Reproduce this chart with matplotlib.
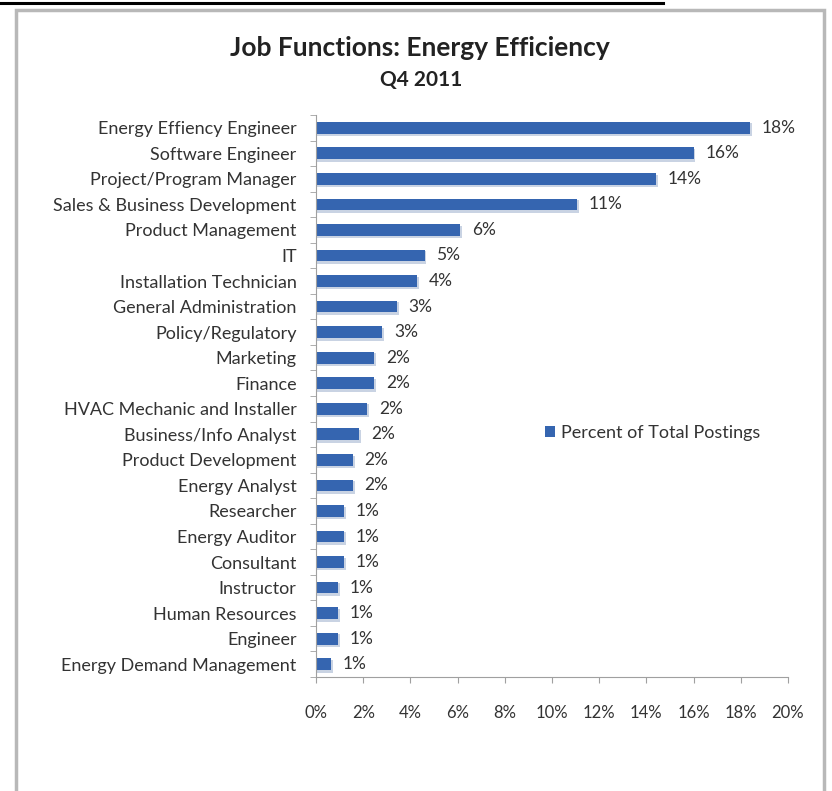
import matplotlib.pyplot as plt
from matplotlib.lines import Line2D
from matplotlib.patches import Rectangle
from matplotlib.ticker import FuncFormatter

plt.rcParams['font.family'] = ['Lato', 'DejaVu Sans']

jobs = ["Energy Effiency Engineer", "Software Engineer", "Project/Program Manager",
        "Sales & Business Development", "Product Management", "IT",
        "Installation Technician", "General Administration", "Policy/Regulatory",
        "Marketing", "Finance", "HVAC Mechanic and Installer", "Business/Info Analyst",
        "Product Development", "Energy Analyst", "Researcher", "Energy Auditor",
        "Consultant", "Instructor", "Human Resources", "Engineer",
        "Energy Demand Management"]
pct = [18.4, 16.0, 14.4, 11.05, 6.1, 4.6, 4.3, 3.43, 2.8, 2.46, 2.46, 2.16, 1.83,
       1.56, 1.56, 1.2, 1.2, 1.2, 0.92, 0.92, 0.92, 0.62]
xticks = list(range(0, 21, 2))

BAR = '#3565b0'
AXIS = '#a0a0a0'
TEXT = '#333333'

fig = plt.figure(figsize=(8.32, 7.91), dpi=100)

# black rule at top and grey chart frame
fig.add_artist(Line2D([0, 663 / 832], [1 - 3 / 791, 1 - 3 / 791], color='black', lw=2.2))
fig.add_artist(Rectangle((16 / 832, -0.05), 808 / 832, 1.05 - 10 / 791,
                         fill=False, edgecolor='#b8b8b8', lw=2.5))

ax = fig.add_axes([316 / 832, 1 - 677 / 791, 472 / 832, 562 / 791])

ypos = list(range(len(jobs)))
# faint shadow under the bars, like the excel original
ax.barh([y + 0.08 for y in ypos], [v + 0.08 for v in pct], height=0.5,
        color='#c9d3e3', zorder=1)
ax.barh(ypos, pct, height=0.46, color=BAR, label='Percent of Total Postings', zorder=2)
for y, v in zip(ypos, pct):
    ax.text(v + 0.5, y, f"{round(v)}%", va='center', ha='left', fontsize=12.5, color=TEXT)

ax.set_ylim(len(jobs) - 0.5, -0.5)
ax.set_yticks(ypos)
ax.set_yticklabels(jobs, fontsize=13, color=TEXT)
ax.set_yticks([i - 0.5 for i in range(len(jobs) + 1)], minor=True)
ax.tick_params(axis='y', which='major', length=0, pad=14)
ax.tick_params(axis='y', which='minor', length=4, color=AXIS)

ax.set_xlim(0, 20)
ax.set_xticks(xticks)
ax.xaxis.set_major_formatter(FuncFormatter(lambda v, p: f"{int(v)}%"))
ax.tick_params(axis='x', length=4, color=AXIS, labelsize=12, labelcolor=TEXT, pad=16)

for s in ['top', 'right']:
    ax.spines[s].set_visible(False)
for s in ['left', 'bottom']:
    ax.spines[s].set_color(AXIS)
    ax.spines[s].set_zorder(3)

ax.legend(loc='center left', bbox_to_anchor=(0.485, 0.434), frameon=False, fontsize=13,
          handlelength=0.55, handleheight=0.55, handletextpad=0.35, borderpad=0,
          borderaxespad=0, labelcolor=TEXT)

fig.text(420 / 832, 1 - 48 / 791, "Job Functions: Energy Efficiency", ha='center',
         va='center', fontsize=19, fontweight='bold', color='#222222')
fig.text(421 / 832, 1 - 80 / 791, "Q4 2011", ha='center', va='center',
         fontsize=15, fontweight='bold', color='#222222')

fig.savefig('out.png', dpi=100)
